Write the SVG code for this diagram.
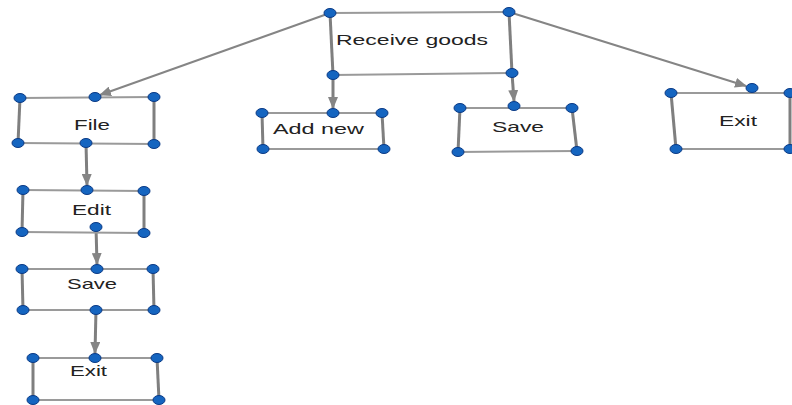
<svg xmlns="http://www.w3.org/2000/svg" width="792" height="405" viewBox="0 0 792 405">
<style>
.h{stroke:#9a9a9a;stroke-width:2;fill:none}
.v{stroke:#7f7f7f;stroke-width:3;fill:none}
.d{fill:#1565c0;stroke:#0b3a85;stroke-width:1}
.c{stroke:#858585;stroke-width:2;fill:none;marker-end:url(#ah)}
.cv{stroke:#7f7f7f;stroke-width:3;fill:none;marker-end:url(#ah)}
text{font-family:"Liberation Sans",Arial,sans-serif;font-size:15px;fill:#222}
</style>
<defs>
<marker id="ah" markerUnits="userSpaceOnUse" markerWidth="12" markerHeight="10" refX="11" refY="5" orient="auto">
<path d="M0,0 L12,5 L0,10 z" fill="#858585"/>
</marker>
</defs>
<rect width="792" height="405" fill="#fff"/>
<g id="connectors">
<path class="c" d="M330,13 L100,95"/>
<path class="cv" d="M333,75 L333,108"/>
<path class="cv" d="M512,73 L514,101"/>
<path class="c" d="M509,12 L746,86"/>
<path class="cv" d="M86,143 L87,185"/>
<path class="cv" d="M96,227 L97,264"/>
<path class="cv" d="M96,310 L95,353"/>
</g>
<g id="receive-goods">
<path class="h" d="M330,13 L509,12"/><path class="h" d="M333,75 L512,73"/>
<path class="v" d="M330,13 L333,75"/><path class="v" d="M509,12 L512,73"/>
<text x="336" y="45" textLength="152" lengthAdjust="spacingAndGlyphs">Receive goods</text>
<ellipse class="d" cx="330" cy="13" rx="6" ry="4.5"/><ellipse class="d" cx="509" cy="12" rx="6" ry="4.5"/>
<ellipse class="d" cx="333" cy="75" rx="6" ry="4.5"/><ellipse class="d" cx="512" cy="73" rx="6" ry="4.5"/>
</g>
<g id="file">
<path class="h" d="M20,98 L154,97"/><path class="h" d="M18,143 L154,144"/>
<path class="v" d="M20,98 L18,143"/><path class="v" d="M154,97 L154,144"/>
<text x="74" y="130" textLength="36" lengthAdjust="spacingAndGlyphs">File</text>
<ellipse class="d" cx="20" cy="98" rx="6" ry="4.5"/><ellipse class="d" cx="95" cy="97" rx="6" ry="4.5"/><ellipse class="d" cx="154" cy="97" rx="6" ry="4.5"/>
<ellipse class="d" cx="18" cy="143" rx="6" ry="4.5"/><ellipse class="d" cx="86" cy="143" rx="6" ry="4.5"/><ellipse class="d" cx="154" cy="144" rx="6" ry="4.5"/>
</g>
<g id="edit">
<path class="h" d="M23,190 L144,191"/><path class="h" d="M22,232 L144,233"/>
<path class="v" d="M23,190 L22,232"/><path class="v" d="M144,191 L144,233"/>
<text x="72" y="215" textLength="39" lengthAdjust="spacingAndGlyphs">Edit</text>
<ellipse class="d" cx="23" cy="190" rx="6" ry="4.5"/><ellipse class="d" cx="87" cy="190" rx="6" ry="4.5"/><ellipse class="d" cx="144" cy="191" rx="6" ry="4.5"/>
<ellipse class="d" cx="22" cy="232" rx="6" ry="4.5"/><ellipse class="d" cx="96" cy="227" rx="6" ry="4.5"/><ellipse class="d" cx="144" cy="233" rx="6" ry="4.5"/>
</g>
<g id="save-left">
<path class="h" d="M22,269 L153,269"/><path class="h" d="M23,310 L154,310"/>
<path class="v" d="M22,269 L23,310"/><path class="v" d="M153,269 L154,310"/>
<text x="67" y="289" textLength="50" lengthAdjust="spacingAndGlyphs">Save</text>
<ellipse class="d" cx="22" cy="269" rx="6" ry="4.5"/><ellipse class="d" cx="97" cy="269" rx="6" ry="4.5"/><ellipse class="d" cx="153" cy="269" rx="6" ry="4.5"/>
<ellipse class="d" cx="23" cy="310" rx="6" ry="4.5"/><ellipse class="d" cx="96" cy="310" rx="6" ry="4.5"/><ellipse class="d" cx="154" cy="310" rx="6" ry="4.5"/>
</g>
<g id="exit-left">
<path class="h" d="M33,358 L157,358"/><path class="h" d="M33,400 L159,400"/>
<path class="v" d="M33,358 L33,400"/><path class="v" d="M157,358 L159,400"/>
<text x="70" y="376" textLength="37" lengthAdjust="spacingAndGlyphs">Exit</text>
<ellipse class="d" cx="33" cy="358" rx="6" ry="4.5"/><ellipse class="d" cx="95" cy="358" rx="6" ry="4.5"/><ellipse class="d" cx="157" cy="358" rx="6" ry="4.5"/>
<ellipse class="d" cx="33" cy="400" rx="6" ry="4.5"/><ellipse class="d" cx="159" cy="400" rx="6" ry="4.5"/>
</g>
<g id="add-new">
<path class="h" d="M262,113 L382,113"/><path class="h" d="M263,149 L384,149"/>
<path class="v" d="M262,113 L263,149"/><path class="v" d="M382,113 L384,149"/>
<text x="273" y="134" textLength="91" lengthAdjust="spacingAndGlyphs">Add new</text>
<ellipse class="d" cx="262" cy="113" rx="6" ry="4.5"/><ellipse class="d" cx="333" cy="113" rx="6" ry="4.5"/><ellipse class="d" cx="382" cy="113" rx="6" ry="4.5"/>
<ellipse class="d" cx="263" cy="149" rx="6" ry="4.5"/><ellipse class="d" cx="384" cy="149" rx="6" ry="4.5"/>
</g>
<g id="save-mid">
<path class="h" d="M460,108 L572,108"/><path class="h" d="M458,152 L577,151"/>
<path class="v" d="M460,108 L458,152"/><path class="v" d="M572,108 L577,151"/>
<text x="492" y="132" textLength="52" lengthAdjust="spacingAndGlyphs">Save</text>
<ellipse class="d" cx="460" cy="108" rx="6" ry="4.5"/><ellipse class="d" cx="514" cy="106" rx="6" ry="4.5"/><ellipse class="d" cx="572" cy="108" rx="6" ry="4.5"/>
<ellipse class="d" cx="458" cy="152" rx="6" ry="4.5"/><ellipse class="d" cx="577" cy="151" rx="6" ry="4.5"/>
</g>
<g id="exit-right">
<path class="h" d="M671,93 L790,93"/><path class="h" d="M676,149 L790,149"/>
<path class="v" d="M671,93 L676,149"/><path class="v" d="M790,93 L790,149"/>
<text x="719" y="126" textLength="38" lengthAdjust="spacingAndGlyphs">Exit</text>
<ellipse class="d" cx="671" cy="93" rx="6" ry="4.5"/><ellipse class="d" cx="752" cy="88" rx="6" ry="4.5"/><ellipse class="d" cx="790" cy="93" rx="6" ry="4.5"/>
<ellipse class="d" cx="676" cy="149" rx="6" ry="4.5"/><ellipse class="d" cx="790" cy="149" rx="6" ry="4.5"/>
</g>
</svg>
